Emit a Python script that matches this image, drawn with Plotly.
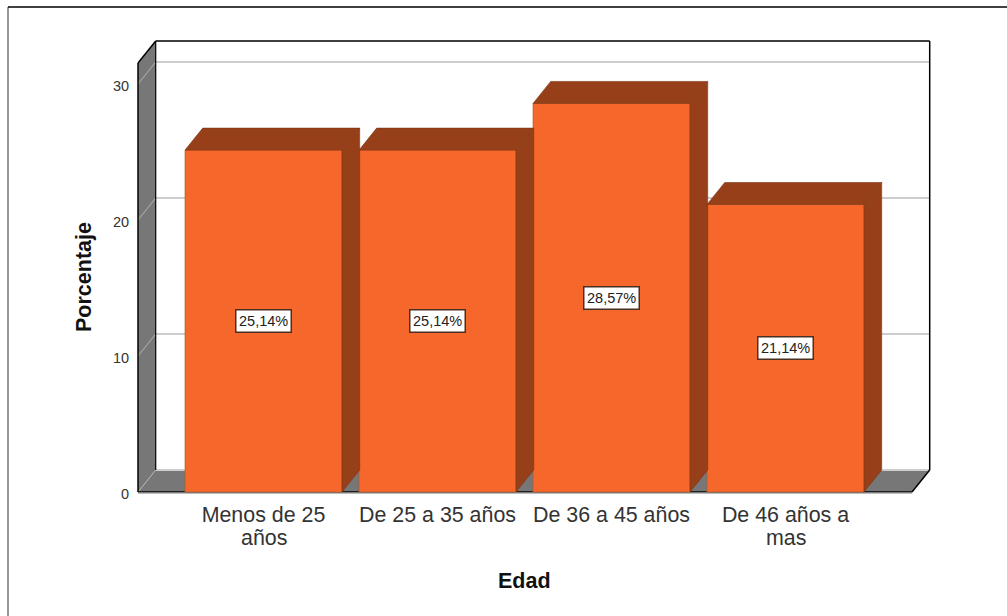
import plotly.graph_objects as go

# Values
categories = [0, 1, 2, 3]
first_lines = ['Menos de 25', 'De 25 a 35 años', 'De 36 a 45 años', 'De 46 años a']
second_lines = ['años', '', '', 'mas']
percentages = [25.14, 25.14, 28.57, 21.14]
labels = ['25,14%', '25,14%', '28,57%', '21,14%']
y_ticks = [0, 10, 20, 30]

FRONT = '#F5672A'
DARK = '#973F18'
WALL = '#777777'
GRID = '#CDCDCD'
TEXT = '#333333'
FONT = 'Liberation Sans'

# Scale of the axes, in pixels per unit
PX_X = 174
PX_Y = 13.6
X0_PX = 263.5   # pixel of first category
Y0_PX = 492     # pixel of value 0
LEFT, RIGHT, TOP, BOTTOM = 135, 933, 38, 496

BAR_W = 157 / PX_X
DX = 17.7 / PX_X   # 3d depth
DY = 22 / PX_Y
X_MIN = (138 - X0_PX) / PX_X
X_MAX = (912 - X0_PX) / PX_X
Y_MAX = (492 - 63) / PX_Y

fig = go.Figure()

# Front faces
fig.add_trace(go.Bar(x=categories, y=percentages, width=BAR_W,
                     marker=dict(color=FRONT, line=dict(color='#B5511F', width=0.6)),
                     hoverinfo='skip'))

# Top and side faces
for i, v in zip(categories, percentages):
    r = i + BAR_W / 2
    l = i - BAR_W / 2
    fig.add_trace(go.Scatter(x=[r, r + DX, r + DX, r, r], y=[0, DY, v + DY, v, 0],
                             mode='lines', fill='toself', fillcolor=DARK,
                             line=dict(color='#7E3514', width=0.6), hoverinfo='skip'))
    fig.add_trace(go.Scatter(x=[l, r, r + DX, l + DX, l], y=[v, v, v + DY, v + DY, v],
                             mode='lines', fill='toself', fillcolor=DARK,
                             line=dict(color='#7E3514', width=0.6), hoverinfo='skip'))

shapes = []


def add_line(x0, y0, x1, y1, color, width):
    shapes.append(dict(type='line', x0=x0, y0=y0, x1=x1, y1=y1, layer='below',
                       line=dict(color=color, width=width)))


# Left wall and floor
wall_path = f'M {X_MIN} 0 L {X_MIN + DX} {DY} L {X_MIN + DX} {Y_MAX + DY} L {X_MIN} {Y_MAX} Z'
floor_path = f'M {X_MIN} 0 L {X_MAX} 0 L {X_MAX + DX} {DY} L {X_MIN + DX} {DY} Z'
shapes.append(dict(type='path', path=wall_path, fillcolor=WALL, line=dict(width=0), layer='below'))
shapes.append(dict(type='path', path=floor_path, fillcolor=WALL, line=dict(width=0), layer='below'))

# Grid lines, on the wall and on the back
for t in y_ticks:
    add_line(X_MIN, t, X_MIN + DX, t + DY, '#B4B4B4', 1)
    add_line(X_MIN + DX, t + DY, X_MAX + DX, t + DY, GRID, 2)

# Box outline
add_line(X_MIN, 0, X_MIN, Y_MAX, 'black', 1.5)
add_line(X_MIN, Y_MAX, X_MIN + DX, Y_MAX + DY, 'black', 1.5)
add_line(X_MIN + DX, Y_MAX + DY, X_MIN + DX, DY, 'black', 1.2)
add_line(X_MIN + DX, Y_MAX + DY, X_MAX + DX, Y_MAX + DY, 'black', 1.5)
add_line(X_MAX + DX, Y_MAX + DY, X_MAX + DX, DY, 'black', 1.5)
add_line(X_MAX + DX, DY, X_MAX, 0, 'black', 1.5)
add_line(X_MIN, 0, X_MAX, 0, 'black', 1.5)
add_line(X_MIN, -0.1, X_MAX, -0.1, '#BBBBBB', 1.5)

# Image frame, top and left only
w = RIGHT - LEFT
h = BOTTOM - TOP
frame_x = (8 - LEFT) / w
frame_y = (BOTTOM - 7) / h
shapes.append(dict(type='line', xref='paper', yref='paper', x0=frame_x, x1=frame_x,
                   y0=(BOTTOM - 616) / h, y1=frame_y, line=dict(color='#555555', width=1.2)))
shapes.append(dict(type='line', xref='paper', yref='paper', x0=frame_x, x1=(1007 - LEFT) / w,
                   y0=frame_y, y1=frame_y, line=dict(color='black', width=1.5)))

annotations = []
for i, v, text in zip(categories, percentages, labels):
    annotations.append(dict(x=i, y=v / 2, xref='x', yref='y', text=text, showarrow=False,
                            font=dict(family=FONT, size=14.5, color='#222222'),
                            bgcolor='white', bordercolor='#4A3020', borderwidth=1.5,
                            borderpad=2.5))

for i, text in zip(categories, second_lines):
    if text:
        annotations.append(dict(x=i, y=(BOTTOM - 538) / h, xref='x', yref='paper', text=text,
                                showarrow=False, xanchor='center', yanchor='middle',
                                font=dict(family=FONT, size=21.4, color=TEXT)))

# y tick labels sit 2 px below their value in the reference
for t in y_ticks:
    annotations.append(dict(x=(131 - LEFT) / w, y=t, xref='paper', yref='y', text=str(t),
                            showarrow=False, xanchor='right', yanchor='middle', yshift=-2,
                            xshift=0, font=dict(family=FONT, size=14.5, color=TEXT)))

annotations.append(dict(x=(524 - LEFT) / w, y=(BOTTOM - 581) / h, xref='paper', yref='paper',
                        text='<b>Edad</b>', showarrow=False, xanchor='center', yanchor='middle',
                        font=dict(family=FONT, size=21.5, color='#111111')))
annotations.append(dict(x=(84 - LEFT) / w, y=(BOTTOM - 277) / h, xref='paper', yref='paper',
                        text='<b>Porcentaje</b>', textangle=-90, showarrow=False,
                        xanchor='center', yanchor='middle',
                        font=dict(family=FONT, size=21.5, color='#111111')))

fig.update_layout(
    width=1007,
    height=616,
    autosize=False,
    margin=dict(l=LEFT, r=1007 - RIGHT, t=TOP, b=616 - BOTTOM, pad=0),
    paper_bgcolor='white',
    plot_bgcolor='white',
    showlegend=False,
    shapes=shapes,
    annotations=annotations,
    xaxis=dict(range=[(LEFT - X0_PX) / PX_X, (RIGHT - X0_PX) / PX_X],
               tickmode='array', tickvals=categories, ticktext=first_lines,
               tickfont=dict(family=FONT, size=21.4, color=TEXT),
               ticklen=0, showgrid=False, zeroline=False, showline=False,
               tickangle=0, ticklabelstandoff=4),
    yaxis=dict(range=[(Y0_PX - BOTTOM) / PX_Y, (Y0_PX - TOP) / PX_Y],
               showticklabels=False,
               ticklen=0, showgrid=False, zeroline=False, showline=False),
)

fig.write_html("out.html", config=dict(displayModeBar=False),
               post_script="document.body.style.margin='0';")
